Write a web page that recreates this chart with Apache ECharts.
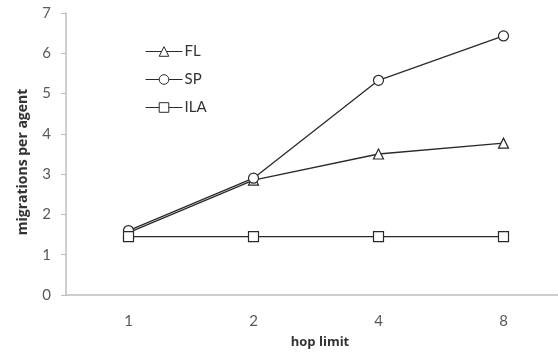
<!DOCTYPE html>
<html>
<head>
<meta charset="utf-8">
<script src="https://cdn.jsdelivr.net/npm/echarts@6/dist/echarts.min.js"></script>
<style>
  html, body { margin: 0; padding: 0; background: #fff; }
  #chart { width: 558px; height: 356px; }
</style>
</head>
<body>
<div id="chart"></div>
<script>
// Hop limit categories and migrations per agent for each strategy
const hopLimits = ['1', '2', '4', '8'];
const flValues = [1.55, 2.85, 3.5, 3.77];
const spValues = [1.6, 2.9, 5.33, 6.43];
const ilaValues = [1.45, 1.45, 1.45, 1.45];
const yTicks = { min: 0, max: 7, interval: 1 };

const FONT = 'Lato';
const TITLE_FONT = 'Open Sans';
const lineColor = '#2a2a2a';

function makeSeries(name, data, symbol, size) {
  return {
    name: name,
    type: 'line',
    data: data,
    symbol: symbol,
    symbolSize: size,
    showSymbol: true,
    lineStyle: { color: lineColor, width: 1.3 },
    itemStyle: { color: '#fff', borderColor: lineColor, borderWidth: 1.2 },
    emphasis: { disabled: true },
    z: 3
  };
}

const chart = echarts.init(document.getElementById('chart'), null, { renderer: 'canvas' });
chart.setOption({
  animation: false,
  backgroundColor: '#fff',
  textStyle: { fontFamily: FONT },
  grid: { left: 66, top: 13, width: 500, bottom: 61, containLabel: false, outerBoundsMode: 'none' },
  legend: {
    orient: 'vertical',
    left: 140,
    top: 39,
    itemWidth: 37,
    itemHeight: 12,
    itemGap: 13,
    itemStyle: { borderWidth: 1 },
    lineStyle: { width: 1 },
    textStyle: { fontFamily: FONT, fontSize: 15, color: '#333', padding: [0, 0, 0, -3] },
    data: ['FL', 'SP', 'ILA']
  },
  xAxis: {
    type: 'category',
    data: hopLimits,
    boundaryGap: true,
    name: 'hop limit',
    nameLocation: 'middle',
    nameGap: 41,
    nameTextStyle: { fontFamily: TITLE_FONT, fontWeight: 'bold', fontSize: 13, color: '#333', padding: [0, 0, 0, 8] },
    axisLine: { lineStyle: { color: '#bdbdbd', width: 1.5 } },
    axisTick: { show: false },
    axisLabel: { fontFamily: FONT, fontSize: 15, color: '#595959', margin: 19 },
    splitLine: { show: false }
  },
  yAxis: {
    type: 'value',
    min: yTicks.min,
    max: yTicks.max,
    interval: yTicks.interval,
    name: 'migrations per agent',
    nameLocation: 'middle',
    nameGap: 36,
    nameRotate: 90,
    nameTextStyle: { fontFamily: TITLE_FONT, fontWeight: 'bold', fontSize: 14, color: '#333', padding: [0, 16, 0, 0] },
    axisLine: { show: true, lineStyle: { color: '#bdbdbd', width: 1.5 } },
    axisTick: { show: true, length: 5, lineStyle: { color: '#bdbdbd' } },
    axisLabel: { fontFamily: FONT, fontSize: 15, color: '#595959', margin: 15 },
    splitLine: { show: false }
  },
  series: [
    makeSeries('FL', flValues, 'triangle', 10),
    makeSeries('SP', spValues, 'circle', 10),
    makeSeries('ILA', ilaValues, 'rect', 10)
  ]
});
</script>
</body>
</html>
